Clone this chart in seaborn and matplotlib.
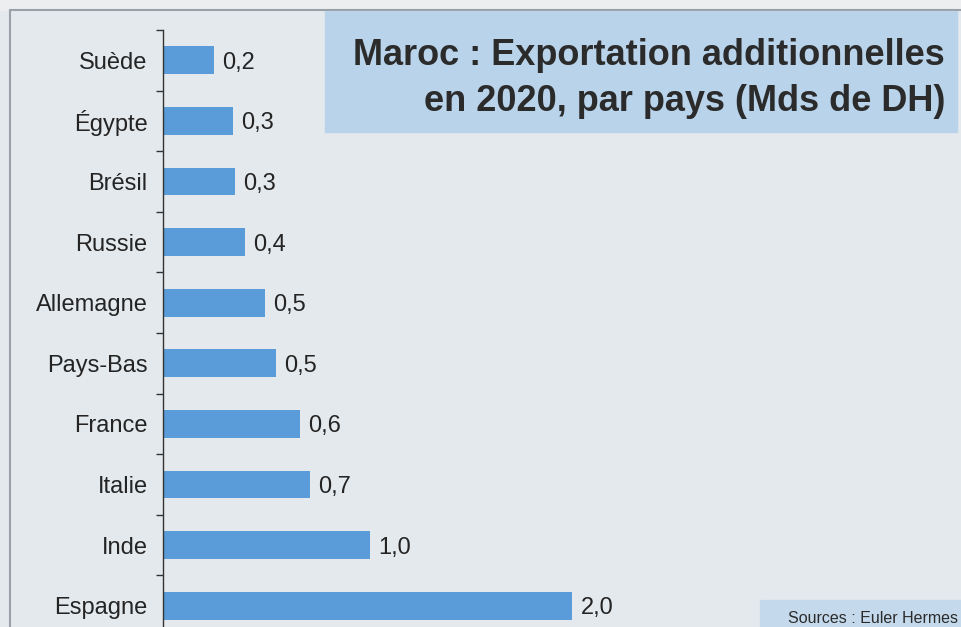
import seaborn as sns
import matplotlib.pyplot as plt
import matplotlib.patches as mpatches
import matplotlib.lines as mlines
import numpy as np
import pandas as pd

pays = ["Suède", "Égypte", "Brésil", "Russie", "Allemagne",
        "Pays-Bas", "France", "Italie", "Inde", "Espagne"]
# longueurs des barres (Mds de DH)
valeurs = [0.25, 0.34, 0.35, 0.40, 0.50, 0.55, 0.67, 0.72, 1.01, 2.0]
etiquettes = ["0,2", "0,3", "0,3", "0,4", "0,5", "0,5", "0,6", "0,7", "1,0", "2,0"]

titre = ["Maroc : Exportation additionnelles", "en 2020, par pays (Mds de DH)"]
source = "Sources : Euler Hermes"

df = pd.DataFrame({"pays": pays, "valeur": valeurs})

sns.set_style("white")
plt.rcParams["font.family"] = ["Liberation Sans", "DejaVu Sans"]

W, H = 962, 627
fig = plt.figure(figsize=(9.62, 6.27), dpi=100)
fig.patch.set_facecolor("#e4e9ed")

# bandeaux bleus (titre et source) et cadre
fig.add_artist(mpatches.Rectangle((325 / W, 1 - 132 / H), 632 / W, 122 / H,
                                  transform=fig.transFigure, color="#b8d3ea", zorder=-1))
fig.add_artist(mpatches.Rectangle((760 / W, 0), 202 / W, 27 / H,
                                  transform=fig.transFigure, color="#c4daec", zorder=-1))
fig.add_artist(mpatches.Rectangle((0, 1 - 10 / H), 1, 10 / H,
                                  transform=fig.transFigure, color="#eceeef", zorder=-1))
fig.add_artist(mlines.Line2D([10 / W, 10 / W], [0, 1 - 10 / H], transform=fig.transFigure,
                             color="#9aa1a8", lw=1.5))
fig.add_artist(mlines.Line2D([10 / W, 1], [1 - 10 / H, 1 - 10 / H], transform=fig.transFigure,
                             color="#9aa1a8", lw=1.5))

# axe : haut a ~30 px, bas sous le bord de l'image (~636 px)
ax = fig.add_axes([163 / W, -9 / H, 797 / W, 606 / H])
ax.set_facecolor("none")
sns.barplot(data=df, x="valeur", y="pays", color="#5a9cda", width=0.46,
            linewidth=0, saturation=1, ax=ax)

for i, (v, lab) in enumerate(zip(valeurs, etiquettes)):
    ax.text(v + 0.04, i, lab, va="center_baseline", ha="left", fontsize=17, color="#242424")

ax.set_xlim(0, 797 / 204.7)
ax.set_ylim(9.5, -0.5)
ax.set_xlabel("")
ax.set_ylabel("")
ax.set_xticks([])
ax.set_yticks(np.arange(-0.5, 10, 1), minor=True)
ax.tick_params(axis="y", which="major", length=0, pad=11, labelsize=17, labelcolor="#242424")
ax.tick_params(axis="y", which="minor", length=5, width=1, direction="out", left=True, color="#333333")
for s in ["top", "right", "bottom"]:
    ax.spines[s].set_visible(False)
ax.spines["left"].set_color("#333333")
ax.spines["left"].set_linewidth(1)

fig.text(945 / W, 1 - 65 / H, titre[0], ha="right", va="baseline",
         fontsize=26, fontweight="bold", color="#2b2b2b")
fig.text(945 / W, 1 - 111 / H, titre[1], ha="right", va="baseline",
         fontsize=26, fontweight="bold", color="#2b2b2b")
fig.text(958 / W, 1 - 623 / H, source, ha="right", va="baseline",
         fontsize=11.5, color="#2b2b2b")

fig.savefig("out.png", dpi=100, facecolor=fig.get_facecolor())
